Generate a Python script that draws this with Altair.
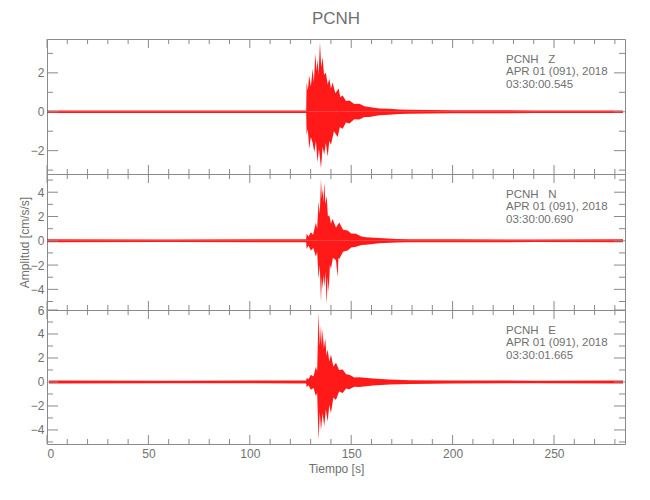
import altair as alt
import pandas as pd

# ---------------- data ----------------
T_DOMAIN = [0, 285]
X_MAJOR = [0, 50, 100, 150, 200, 250]
X_MINOR = [10, 20, 30, 40, 60, 70, 80, 90, 110, 120, 130, 140, 160, 170, 180, 190,
           210, 220, 230, 240, 260, 270, 280]

# Z component envelope (upper / lower), cm/s/s
z_up_t = [0, 60, 127.8, 128.0, 128.6, 129.3, 130.1, 131.0, 131.6, 132.3, 132.9, 133.4,
          133.9, 134.6, 135.2, 135.9, 136.6, 137.5, 138.4, 139.2, 140.0, 140.8, 142.2,
          143.8, 144.6, 145.8, 147.4, 149.1, 151.5, 154.0, 156.5, 158.9, 163.9, 168.8,
          173.7, 178.7, 200, 240, 284]
z_up_v = [0.07, 0.06, 0.07, 1.5, 1.1, 1.86, 1.3, 2.2, 1.5, 3.0, 2.1, 2.7,
          1.9, 3.57, 2.3, 2.8, 1.9, 2.0, 1.4, 1.7, 1.2, 1.5, 0.95,
          1.2, 0.75, 0.84, 0.55, 0.58, 0.4, 0.41, 0.28, 0.24, 0.17, 0.15,
          0.11, 0.1, 0.08, 0.07, 0.07]
z_lo_t = [0, 60, 127.8, 128.0, 128.6, 129.3, 130.1, 131.0, 131.8, 132.6, 133.4, 134.1,
          135.1, 135.9, 136.7, 137.5, 138.4, 139.2, 140.0, 141.5, 143.3, 144.4, 145.8,
          147.4, 149.1, 151.5, 154.0, 156.5, 158.9, 163.9, 168.8, 173.7, 178.7, 200, 240, 284]
z_lo_v = [-0.07, -0.06, -0.07, -1.2, -0.9, -1.9, -1.3, -1.6, -2.07, -1.5, -2.6, -1.9,
          -2.9, -1.8, -2.2, -1.6, -2.3, -1.5, -1.7, -1.0, -1.3, -0.8, -0.87,
          -0.55, -0.6, -0.38, -0.4, -0.27, -0.27, -0.18, -0.15, -0.11, -0.1, -0.08, -0.07, -0.07]

# N component envelope
n_up_t = [0, 60, 127.8, 128.0, 129.0, 130.1, 131.2, 132.6, 133.2, 133.9, 134.5, 135.1,
          135.5, 135.9, 136.3, 136.7, 137.3, 137.9, 138.5, 139.2, 140.0, 140.8, 142.5,
          144.1, 146.0, 148.2, 150.0, 152.4, 155.0, 157.3, 163.9, 172.1, 178.7, 200, 240, 284]
n_up_v = [0.12, 0.11, 0.12, 0.57, 0.35, 0.7, 0.5, 1.5, 1.0, 3.2, 2.2, 5.1,
          3.5, 4.3, 3.2, 4.8, 3.0, 3.7, 2.0, 2.1, 1.4, 1.8, 1.1,
          1.5, 0.9, 0.85, 0.6, 0.57, 0.35, 0.3, 0.22, 0.14, 0.12, 0.12, 0.11, 0.12]
n_lo_t = [0, 60, 127.8, 128.0, 129.0, 130.1, 131.3, 132.6, 133.2, 133.9, 134.5, 135.1,
          135.5, 135.9, 136.3, 136.7, 137.3, 137.9, 138.4, 138.9, 139.5, 140.0, 141.0,
          142.5, 143.3, 143.7, 144.1, 146.0, 148.2, 150.0, 152.4, 155.0, 157.3, 163.9,
          172.1, 178.7, 200, 240, 284]
n_lo_v = [-0.12, -0.11, -0.12, -0.65, -0.4, -0.8, -0.6, -1.3, -0.9, -3.1, -2.0, -5.0,
          -3.0, -4.0, -2.8, -3.8, -2.6, -5.2, -3.0, -4.2, -2.0, -2.3, -1.4,
          -1.6, -3.0, -1.4, -1.5, -0.9, -0.8, -0.55, -0.5, -0.35, -0.33, -0.2,
          -0.14, -0.12, -0.12, -0.11, -0.12]

# E component envelope
e_up_t = [1, 60, 127.8, 128.0, 129.0, 130.1, 131.4, 132.6, 133.2, 133.9, 134.5, 135.1,
          135.5, 135.9, 136.5, 137.2, 137.8, 138.4, 139.2, 140.0, 141.2, 142.5, 144.0,
          145.8, 147.5, 149.1, 151.5, 154.0, 160.6, 168.8, 178.7, 200, 240, 284]
e_up_v = [0.12, 0.11, 0.12, 0.34, 0.25, 0.6, 0.45, 1.3, 0.9, 5.8, 3.0, 4.7,
          3.0, 4.4, 2.8, 3.6, 2.2, 2.7, 1.7, 2.3, 1.3, 1.6, 1.0,
          1.04, 0.65, 0.6, 0.38, 0.4, 0.28, 0.2, 0.14, 0.12, 0.11, 0.12]
e_lo_t = [1, 60, 127.8, 128.0, 129.0, 130.1, 131.4, 132.6, 133.2, 133.9, 134.5, 135.1,
          135.9, 136.7, 137.5, 138.4, 139.2, 140.0, 141.2, 142.5, 144.0, 145.8, 147.5,
          149.1, 151.5, 154.0, 160.6, 168.8, 178.7, 200, 240, 284]
e_lo_v = [-0.12, -0.11, -0.12, -0.42, -0.3, -0.64, -0.5, -1.2, -0.9, -4.85, -2.5, -4.0,
          -2.6, -3.7, -2.3, -3.3, -1.9, -2.6, -1.3, -1.5, -0.8, -0.92, -0.55,
          -0.6, -0.4, -0.42, -0.3, -0.22, -0.17, -0.12, -0.11, -0.12]

# y-axis domains and ticks per panel
z_dom, z_major, z_minor = [-3.2, 3.74], [-2, 0, 2], [-3, -1, 1, 3]
n_dom, n_major, n_minor = [-5.7, 5.5], [-4, -2, 0, 2, 4], [-5, -3, -1, 1, 3, 5]
e_dom, e_major, e_minor = [-5.17, 6.0], [-4, -2, 0, 2, 4, 6], [-5, -3, -1, 1, 3, 5]

labels = {
    "Z": ["PCNH\u00a0\u00a0\u00a0Z", "APR 01 (091), 2018", "03:30:00.545"],
    "N": ["PCNH\u00a0\u00a0\u00a0N", "APR 01 (091), 2018", "03:30:00.690"],
    "E": ["PCNH\u00a0\u00a0\u00a0E", "APR 01 (091), 2018", "03:30:01.665"],
}

FONT = "Liberation Sans"
GREY = "#8a8a8a"
TXT = "#707070"
RED = "#ff0000"
W = 578


def panel(comp, up_t, up_v, lo_t, lo_v, dom, major, minor, h, bottom=False, ytitle=None):
    xs = alt.Scale(domain=T_DOMAIN, nice=False, zero=False)
    ys = alt.Scale(domain=dom, nice=False, zero=False)
    if bottom:
        xaxis = alt.Axis(values=X_MAJOR, ticks=False, domain=False, grid=False,
                         labelPadding=4, title="Tiempo [s]", titlePadding=4)
    else:
        xaxis = None
    if ytitle:
        yaxis = alt.Axis(values=major, ticks=False, domain=False, grid=False,
                         labelPadding=3, title=ytitle, titleX=-16)
    else:
        yaxis = alt.Axis(values=major, ticks=False, domain=False, grid=False,
                         labelPadding=3, title="")

    X = alt.X("t:Q", scale=xs, axis=xaxis)
    Y = alt.Y("v:Q", scale=ys, axis=yaxis)

    up = alt.Chart(pd.DataFrame({"t": up_t, "v": up_v})).mark_area(
        color=RED, opacity=0.9, interpolate="linear").encode(
        x=X, y=Y, y2=alt.datum(0))
    lo = alt.Chart(pd.DataFrame({"t": lo_t, "v": lo_v})).mark_area(
        color=RED, opacity=0.9, interpolate="linear").encode(
        x=X, y=Y, y2=alt.datum(0))

    ymaj = pd.DataFrame({"v": major})
    ymin = pd.DataFrame({"v": minor})
    xmaj = pd.DataFrame({"t": X_MAJOR})
    xmin = pd.DataFrame({"t": X_MINOR})

    def yrule(df, x0, x1):
        return alt.Chart(df).mark_rule(color=GREY, strokeWidth=1).encode(
            y=Y, x=alt.value(x0), x2=alt.value(x1))

    def xrule(df, y0, y1):
        return alt.Chart(df).mark_rule(color=GREY, strokeWidth=1).encode(
            x=X, y=alt.value(y0), y2=alt.value(y1))

    ticks = [
        yrule(ymaj, 0, 11), yrule(ymin, 0, 6),
        yrule(ymaj, W, W - 11), yrule(ymin, W, W - 6),
        xrule(xmaj, 0, 9), xrule(xmin, 0, 5),
        xrule(xmaj, h, h - 9), xrule(xmin, h, h - 5),
    ]

    texts = []
    for line, ypix in zip(labels[comp], [20.5, 33, 45.5]):
        texts.append(alt.Chart(pd.DataFrame({"label": [line]})).mark_text(
            align="left", baseline="middle", font=FONT, fontSize=11.5, color=TXT).encode(
            text="label:N", x=alt.value(459), y=alt.value(ypix)))

    return alt.layer(up, lo, *ticks, *texts).properties(width=W, height=h)


pz = panel("Z", z_up_t, z_up_v, z_lo_t, z_lo_v, z_dom, z_major, z_minor, 135)
pn = panel("N", n_up_t, n_up_v, n_lo_t, n_lo_v, n_dom, n_major, n_minor, 136,
           ytitle="Amplitud [cm/s/s]")
pe = panel("E", e_up_t, e_up_v, e_lo_t, e_lo_v, e_dom, e_major, e_minor, 134, bottom=True)

chart = alt.vconcat(pz, pn, pe, spacing=0, bounds="flush").properties(
    title=alt.TitleParams("PCNH", fontSize=17, font=FONT, color=TXT,
                          fontWeight="normal", anchor="middle", frame="group", offset=10),
    padding={"left": 9, "top": 2, "right": 5, "bottom": 5},
).configure_view(stroke=GREY, strokeWidth=1).configure_axis(
    labelFont=FONT, labelFontSize=12, labelColor=TXT,
    titleFont=FONT, titleFontSize=12, titleColor=TXT, titleFontWeight="normal",
).configure_concat(spacing=0)

chart.save("out.html", embed_options={"renderer": "svg", "actions": False})
